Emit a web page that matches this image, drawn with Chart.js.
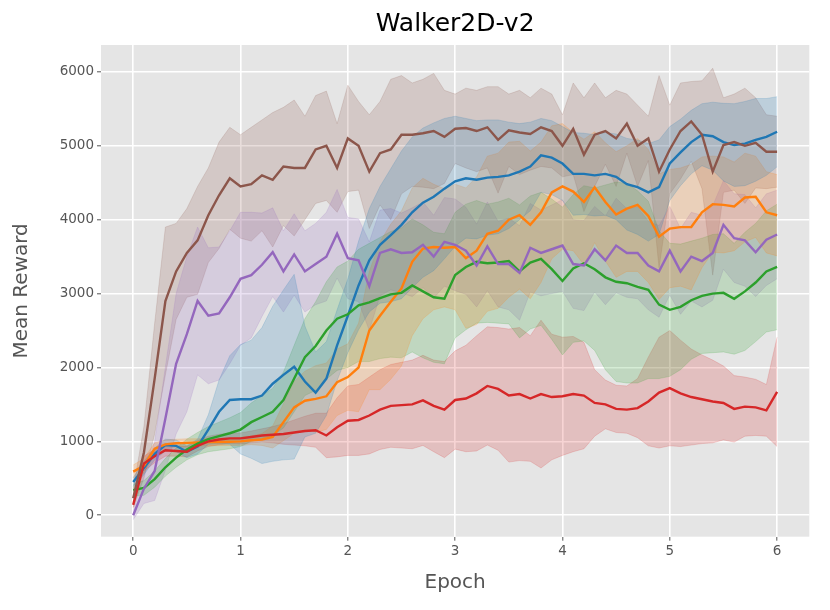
<!DOCTYPE html>
<html>
<head>
<meta charset="utf-8">
<title>Walker2D-v2</title>
<script src="https://cdn.jsdelivr.net/npm/chart.js@4.4.1/dist/chart.umd.min.js"></script>
<style>
  html, body { margin: 0; padding: 0; background: #fff; }
  #wrap { width: 830px; height: 610px; }
</style>
</head>
<body>
<div id="wrap"><canvas id="rewardChart" width="830" height="610"></canvas></div>
<script>
// ================= Data =================
const epochs = [
  0.0, 0.1, 0.2, 0.3, 0.4, 0.5, 0.6, 0.7, 0.8, 0.9,
  1.0, 1.1, 1.2, 1.3, 1.4, 1.5, 1.6, 1.7, 1.8, 1.9,
  2.0, 2.1, 2.2, 2.3, 2.4, 2.5, 2.6, 2.7, 2.8, 2.9,
  3.0, 3.1, 3.2, 3.3, 3.4, 3.5, 3.6, 3.7, 3.8, 3.9,
  4.0, 4.1, 4.2, 4.3, 4.4, 4.5, 4.6, 4.7, 4.8, 4.9,
  5.0, 5.1, 5.2, 5.3, 5.4, 5.5, 5.6, 5.7, 5.8, 5.9,
  6.0
];
const xTicks = [0, 1, 2, 3, 4, 5, 6];
const yTicks = [0, 1000, 2000, 3000, 4000, 5000, 6000];

const blueMean = [
  450, 640, 830, 950, 940, 860, 930, 1160, 1400, 1560,
  1570, 1570, 1620, 1780, 1900, 2010, 1810, 1660, 1850, 2300,
  2700, 3110, 3450, 3660, 3790, 3930, 4100, 4230, 4310, 4420,
  4520, 4560, 4540, 4570, 4580, 4600, 4650, 4720, 4870, 4840,
  4760, 4620, 4620, 4600, 4620, 4580, 4480, 4440, 4370, 4440,
  4760, 4910, 5050, 5150, 5130, 5050, 5010, 5030, 5080, 5120,
  5190
];
const blueStd = [
  60, 90, 80, 80, 80, 80, 100, 200, 430, 600,
  740, 800, 920, 1050, 1150, 1250, 750, 550, 500, 480,
  500, 600, 700, 790, 900, 1000, 1020, 1010, 1000, 950,
  880, 810, 800, 780, 770, 720, 650, 600, 500, 500,
  500, 560, 550, 550, 560, 580, 620, 640, 660, 640,
  500, 450, 430, 420, 460, 525, 560, 570, 560, 520,
  475
];

const orangeMean = [
  590, 670, 900, 960, 975, 980, 985, 990, 992, 995,
  1000, 1015, 1025, 1060, 1260, 1460, 1550, 1575, 1610, 1800,
  1870, 2000, 2500, 2700, 2890, 3070, 3430, 3610, 3630, 3620,
  3630, 3480, 3580, 3810, 3850, 4000, 4060, 3930, 4100, 4370,
  4450, 4380, 4240, 4440, 4240, 4070, 4150, 4200, 4050, 3770,
  3880, 3900, 3900, 4100, 4210, 4200, 4180, 4300, 4310, 4100,
  4060
];
const orangeStd = [
  90, 100, 80, 60, 55, 55, 50, 50, 50, 50,
  55, 60, 80, 150, 250, 350, 400, 450, 450, 450,
  450, 600, 800, 1000, 1050, 1050, 1000, 950, 850, 800,
  850, 950, 1000, 1050, 1050, 1050, 1000, 1000, 950, 900,
  850, 800, 850, 750, 800, 850, 850, 900, 900, 850,
  800, 800, 850, 750, 650, 650, 600, 600, 550, 550,
  550
];

const greenMean = [
  340, 370, 490, 650, 780, 890, 970, 1030, 1070, 1110,
  1160, 1260, 1330, 1400, 1560, 1850, 2140, 2290, 2500, 2660,
  2720, 2840, 2880, 2940, 2990, 3010, 3110, 3030, 2950, 2930,
  3250, 3360, 3430, 3410, 3420, 3440, 3300, 3420, 3470, 3330,
  3170, 3340, 3410, 3330, 3220, 3160, 3140, 3090, 3050, 2850,
  2780, 2820, 2910, 2970, 3000, 3010, 2930, 3030, 3150, 3300,
  3360
];
const greenStd = [
  80, 100, 110, 120, 130, 140, 150, 170, 190, 210,
  230, 260, 290, 320, 380, 450, 520, 600, 660, 700,
  720, 760, 800, 820, 850, 880, 900, 900, 880, 880,
  850, 850, 830, 800, 820, 850, 900, 900, 900, 950,
  1000, 1000, 1050, 1100, 1250, 1350, 1350, 1300, 1200, 1000,
  900, 850, 800, 780, 800, 800, 750, 800, 800, 820,
  850
];

const redMean = [
  140, 700, 800, 880, 870, 860, 940, 1000, 1025, 1040,
  1040, 1060, 1080, 1090, 1100, 1120, 1140, 1150, 1080, 1190,
  1280, 1290, 1350, 1430, 1480, 1490, 1500, 1555, 1480, 1430,
  1560, 1580, 1650, 1750, 1710, 1620, 1640, 1580, 1640, 1600,
  1610, 1640, 1620, 1520, 1500, 1440, 1430, 1450, 1540, 1660,
  1720, 1650, 1600, 1570, 1540, 1520, 1440, 1470, 1460, 1420,
  1670
];
const redStd = [
  40, 100, 90, 80, 70, 70, 70, 70, 70, 70,
  75, 80, 90, 110, 140, 170, 200, 230, 300, 400,
  470, 480, 520, 540, 560, 580, 600, 610, 620, 650,
  665, 720, 780, 800, 830, 900, 900, 850, 1000, 850,
  800, 780, 720, 450, 330, 320, 320, 400, 600, 750,
  780, 720, 650, 600, 560, 500, 450, 400, 380, 350,
  740
];

const purpleMean = [
  0, 360, 600, 1310, 2050, 2450, 2900, 2700, 2730, 2950,
  3200, 3250, 3390, 3560, 3300, 3530, 3300, 3400, 3500, 3810,
  3480, 3450, 3100, 3550, 3600, 3550, 3560, 3660, 3500, 3700,
  3660, 3580, 3380, 3640, 3400, 3400, 3280, 3620, 3550, 3600,
  3650, 3400, 3380, 3600, 3450, 3650, 3550, 3550, 3380, 3300,
  3580, 3300, 3500, 3440, 3550, 3930, 3750, 3720, 3560, 3730,
  3800
];
const purpleStd = [
  60, 200, 400, 700, 950, 1050, 1000, 920, 900, 900,
  900, 850, 700, 600, 550, 550, 550, 550, 600, 600,
  550, 560, 600, 580, 550, 540, 600, 580, 560, 600,
  620, 590, 560, 600, 580, 620, 640, 600, 580, 600,
  620, 600, 610, 580, 600, 640, 600, 620, 600, 620,
  600, 580, 600, 620, 640, 600, 600, 620, 600, 620,
  600
];

const brownMean = [
  230, 850, 1850, 2900, 3300, 3550, 3720, 4060, 4330, 4560,
  4450, 4480, 4600, 4540, 4720, 4700, 4700, 4950, 5000, 4700,
  5100, 5000, 4650, 4900, 4950, 5150, 5150, 5170, 5200, 5120,
  5230, 5240, 5200, 5250, 5080, 5210, 5180, 5160, 5250, 5200,
  5000, 5230, 4880, 5150, 5200, 5100, 5300, 5000, 5100, 4650,
  4950, 5200, 5330, 5150, 4650, 5010, 5050, 5000, 5040, 4920,
  4920
];
const brownStd = [
  120, 350, 750, 1000, 650, 600, 730, 640, 720, 690,
  700, 770, 750, 910, 800, 920, 700, 730, 740, 600,
  720, 600, 770, 700, 950, 800, 700, 730, 780, 630,
  470, 540, 550, 550, 720, 490, 570, 490, 530, 500,
  420, 620, 770, 700, 450, 650, 400, 550, 300, 1300,
  600, 650, 540, 730, 1400, 640, 650, 780, 610, 500,
  480
];

// ================= Series table =================
// bands go in matplotlib order (blue first); lines reversed so brown ends up on top
const SERIES = [
  { mean: blueMean,   std: blueStd,   rgb: [31, 119, 180] },
  { mean: orangeMean, std: orangeStd, rgb: [255, 127, 14] },
  { mean: greenMean,  std: greenStd,  rgb: [44, 160, 44] },
  { mean: redMean,    std: redStd,    rgb: [214, 39, 40] },
  { mean: purpleMean, std: purpleStd, rgb: [148, 103, 189] },
  { mean: brownMean,  std: brownStd,  rgb: [140, 86, 75] }
];

const rgba = (c, a) => `rgba(${c[0]}, ${c[1]}, ${c[2]}, ${a})`;
const toPoints = vals => epochs.map((x, i) => ({ x, y: vals[i] }));

function buildDatasets() {
  const out = [];
  // shaded mean ± std bands
  SERIES.forEach(s => {
    const hi = s.mean.map((m, i) => m + s.std[i]);
    const lo = s.mean.map((m, i) => m - s.std[i]);
    const edge = { borderColor: rgba(s.rgb, 0.22), borderWidth: 0.8, pointRadius: 0, tension: 0, order: 2 };
    out.push({ ...edge, data: toPoints(hi), fill: false });
    out.push({ ...edge, data: toPoints(lo), fill: '-1', backgroundColor: rgba(s.rgb, 0.2) });
  });
  // mean lines (first in list is drawn last)
  [...SERIES].reverse().forEach(s => {
    out.push({
      data: toPoints(s.mean),
      borderColor: rgba(s.rgb, 1),
      borderWidth: 2.4,
      pointRadius: 0,
      tension: 0,
      fill: false,
      order: 1
    });
  });
  return out;
}

// ================= Plot background (ggplot grey) =================
const panelBg = {
  id: 'panelBg',
  beforeDraw(chart) {
    const { ctx, chartArea: a } = chart;
    ctx.save();
    ctx.fillStyle = '#E5E5E5';
    ctx.fillRect(a.left, a.top, a.right - a.left, a.bottom - a.top);
    ctx.restore();
  }
};

// ================= Chart =================
Chart.defaults.font.family = "'DejaVu Sans', sans-serif";

function axisOpts(ticks, extra) {
  return {
    type: 'linear',
    afterBuildTicks: s => { s.ticks = ticks.map(v => ({ value: v })); },
    grid: { color: '#FFFFFF', lineWidth: 1.6, tickColor: '#555555', tickLength: 4, tickWidth: 1 },
    border: { display: false },
    ticks: { color: '#555555', font: { size: 13.5 }, maxRotation: 0, callback: v => String(v) },
    ...extra
  };
}

new Chart(document.getElementById('rewardChart'), {
  type: 'line',
  data: { datasets: buildDatasets() },
  options: {
    responsive: false,
    animation: false,
    events: [],
    layout: { padding: { left: 0, right: 20.7, top: 0, bottom: 0 } },
    plugins: {
      legend: { display: false },
      tooltip: { enabled: false },
      title: {
        display: true,
        text: 'Walker2D-v2',
        color: '#000000',
        fullSize: false,
        font: { size: 25, weight: 'normal' },
        padding: { top: 9, bottom: 6 }
      }
    },
    scales: {
      x: axisOpts(xTicks, {
        min: -0.3,
        max: 6.3,
        afterFit: s => { s.height = 73.3; },
        title: { display: true, text: 'Epoch', color: '#555555', font: { size: 20 }, padding: { top: 0, bottom: 15 } }
      }),
      y: axisOpts(yTicks, {
        min: -290,
        max: 6364,
        afterFit: s => { s.width = 101; },
        title: { display: true, text: 'Mean Reward', color: '#555555', font: { size: 20 }, padding: { top: 10, bottom: 0 } }
      })
    }
  },
  plugins: [panelBg]
});
</script>
</body>
</html>
